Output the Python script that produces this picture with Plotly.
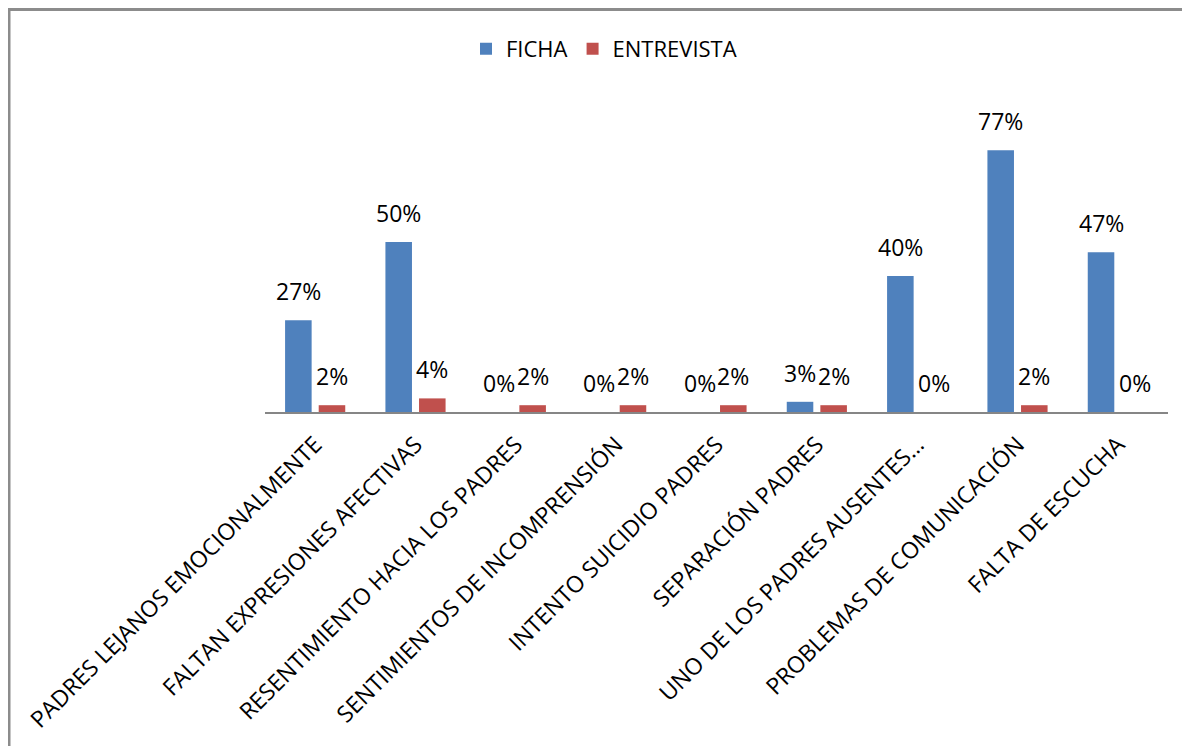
import plotly.graph_objects as go

categories = [
    "PADRES LEJANOS EMOCIONALMENTE",
    "FALTAN EXPRESIONES AFECTIVAS",
    "RESENTIMIENTO HACIA LOS PADRES",
    "SENTIMIENTOS DE INCOMPRENSIÓN",
    "INTENTO SUICIDIO PADRES",
    "SEPARACIÓN PADRES",
    "UNO DE LOS PADRES AUSENTES…",
    "PROBLEMAS DE COMUNICACIÓN",
    "FALTA DE ESCUCHA",
]
ficha = [0.27, 0.50, 0.0, 0.0, 0.0, 0.03, 0.40, 0.77, 0.47]
entrevista = [0.02, 0.04, 0.02, 0.02, 0.02, 0.02, 0.0, 0.02, 0.0]
series_names = ["FICHA", "ENTREVISTA"]
series_colors = ["#4F81BD", "#C0504D"]

# page body has an 8px margin; figure pixel (0,0) sits at screen (8,8)
W, H = 1174, 738
L, T = 257, 98
R = W - 1160
B = H - 403.7
plot_w = W - L - R
plot_h = H - T - B
YMAX = 0.9

FONT = "Open Sans"

fig = go.Figure()
for name, vals, col in zip(series_names, [ficha, entrevista], series_colors):
    fig.add_trace(go.Bar(
        name=name, x=categories, y=vals,
        marker=dict(color=col, line=dict(width=0)),
    ))

# data labels above bars
slot = 0.335
offsets = [-slot / 2, slot / 2]
annotations = []
for vals, off in zip([ficha, entrevista], offsets):
    for i, v in enumerate(vals):
        annotations.append(dict(
            x=i + off, y=v, xref="x", yref="y",
            text=f"{round(v * 100)}%", showarrow=False,
            yanchor="bottom", xanchor="center", yshift=11,
            font=dict(family=FONT, size=23, color="#000000"),
        ))

def px_to_paper_x(px):
    return (px - L) / plot_w

def px_to_paper_y(py):
    return (H - B - py) / plot_h

border = dict(color="#8C8C8C", width=3)
fig.update_layout(
    width=W, height=H,
    margin=dict(l=L, r=R, t=T, b=B, autoexpand=False),
    paper_bgcolor="white", plot_bgcolor="white",
    barmode="group", bargap=0.33, bargroupgap=0.21,
    font=dict(family=FONT, size=22, color="#000000"),
    showlegend=True,
    legend=dict(
        orientation="h", x=px_to_paper_x(596), y=px_to_paper_y(41),
        xanchor="center", yanchor="middle",
        font=dict(family=FONT, size=22, color="#000000"),
        bgcolor="rgba(0,0,0,0)", itemwidth=30, tracegroupgap=0,
    ),
    xaxis=dict(
        type="category", showline=True, linecolor="#868686", linewidth=2,
        ticks="", tickangle=-45, automargin=False, showgrid=False,
        ticklabelstandoff=8,
        tickfont=dict(family=FONT, size=23, color="#000000"),
    ),
    yaxis=dict(
        range=[0, YMAX], visible=False, showgrid=False, zeroline=False,
    ),
    annotations=annotations,
    shapes=[
        dict(type="line", xref="paper", yref="paper",
             x0=px_to_paper_x(1), x1=px_to_paper_x(W),
             y0=px_to_paper_y(1.5), y1=px_to_paper_y(1.5),
             line=border, layer="below"),
        dict(type="line", xref="paper", yref="paper",
             x0=px_to_paper_x(1), x1=px_to_paper_x(1),
             y0=px_to_paper_y(0), y1=px_to_paper_y(H),
             line=border, layer="below"),
    ],
)

fig.write_html("out.html")
